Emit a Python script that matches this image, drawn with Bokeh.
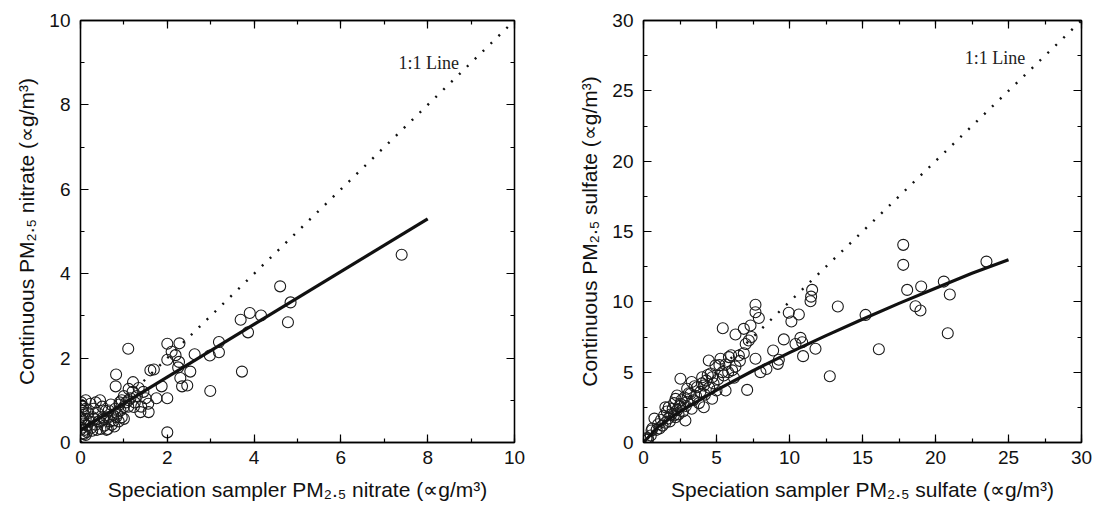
from bokeh.plotting import figure
from bokeh.models import Range1d, LinearAxis, SingleIntervalTicker, CustomJSTickFormatter, Label
from bokeh.layouts import row
from bokeh.embed import file_html
from bokeh.resources import INLINE

# ---------------- data: nitrate (left panel) ----------------
nitrate_x = [0.02, 0.05, 0.03, 0.08, 0.02, 0.06, 0.03, 0.10, 0.05, 0.12, 0.15, 0.12, 0.12, 0.12,
             0.18, 0.20, 0.23, 0.25, 0.27, 0.28, 0.30, 0.31, 0.35, 0.38, 0.40, 0.42, 0.45, 0.46,
             0.50, 0.52, 0.54, 0.55, 0.58, 0.60, 0.61, 0.63, 0.65, 0.68, 0.70, 0.72, 0.75, 0.77,
             0.78, 0.80, 0.82, 0.85, 0.88, 0.90, 0.92, 0.95, 1.00, 1.00, 1.11, 1.23, 0.00, 0.00,
             0.00, 0.15, 0.35, 0.08,
             0.95, 1.00, 1.05, 1.15, 1.25, 1.30, 1.45, 1.50, 1.10, 0.90, 1.20, 1.40,
             1.10, 2.00, 2.28, 2.00, 2.19, 2.27, 2.10, 2.25, 2.00,
             0.82, 0.81, 1.21, 1.34, 1.11, 1.61, 1.69,
             2.53, 2.46, 2.34, 2.63, 2.30, 1.87, 1.75, 2.00, 1.56, 1.38, 1.57,
             2.98, 2.99, 3.19, 3.19, 3.72, 3.69, 3.90, 3.86, 4.16, 4.78, 4.84, 4.60, 7.40]
nitrate_y = [0.95, 0.85, 0.75, 0.65, 0.55, 0.45, 0.35, 0.30, 0.22, 0.18, 0.40, 0.56, 0.80, 1.00,
             0.70, 0.50, 0.92, 0.35, 0.28, 0.60, 0.80, 0.56, 0.42, 0.30, 0.70, 0.50, 1.00, 0.32,
             0.85, 0.60, 0.56, 0.40, 0.75, 0.30, 0.60, 0.32, 0.76, 0.50, 0.90, 0.42, 0.65, 0.52,
             0.38, 0.80, 0.60, 0.68, 0.50, 0.95, 0.76, 0.60, 0.84, 0.56, 1.00, 0.84, 0.30, 0.60,
             0.90, 0.25, 0.95, 0.20,
             1.00, 1.10, 0.95, 1.05, 0.95, 1.10, 1.20, 1.05, 0.85, 0.90, 1.20, 0.85,
             2.22, 2.34, 2.35, 1.96, 2.07, 1.91, 2.15, 1.78, 0.24,
             1.61, 1.33, 1.43, 1.29, 1.27, 1.71, 1.73,
             1.68, 1.35, 1.33, 2.09, 1.53, 1.33, 1.05, 1.05, 0.92, 0.72, 0.72,
             2.06, 1.22, 2.38, 2.14, 1.68, 2.91, 3.07, 2.61, 3.01, 2.85, 3.32, 3.70, 4.45]
nitrate_fit_x = [0.0, 8.0]
nitrate_fit_y = [0.30, 5.30]

# ---------------- data: sulfate (right panel) ----------------
sulfate_x = [0.30, 0.50, 0.55, 0.75, 0.90, 1.00, 1.10, 1.20, 1.30, 1.40, 1.50, 1.60, 1.70, 1.73,
             1.80, 1.90, 2.00, 2.08, 2.10, 2.20, 2.30, 2.30, 2.40, 2.50, 2.53, 2.53, 2.60, 2.70,
             2.80, 2.87, 2.90, 2.99, 3.00, 3.10, 3.22, 3.30, 3.40, 3.50, 3.60, 3.67, 3.80, 3.90,
             4.00, 4.02, 4.13, 4.13, 4.20, 4.30, 4.47, 4.50, 4.60, 4.70, 4.70, 4.80, 4.93, 5.00,
             5.10, 5.27, 5.40, 5.50, 5.62, 5.62, 5.85, 6.07, 6.20, 6.30, 6.53, 6.87, 6.87, 6.30,
             5.43, 7.33, 7.67, 7.67, 7.90, 7.21, 7.10, 7.67, 8.01, 8.42, 8.88, 9.27, 9.20, 9.61,
             9.95, 10.13, 10.64, 10.41, 10.75, 10.87, 10.93, 11.78, 11.44, 11.55, 11.48, 13.31,
             12.76, 15.21, 16.12, 17.79, 17.79, 18.06, 19.02, 18.63, 18.97, 20.57, 20.98, 20.84,
             23.49, 5.20, 5.80, 6.00, 6.60, 7.00, 7.40, 3.30, 4.40, 2.20, 1.50, 0.60, 0.20, 0.30]
sulfate_y = [0.30, 0.50, 0.85, 1.70, 0.90, 1.30, 1.00, 1.60, 1.20, 1.90, 1.40, 2.20, 1.70, 2.51,
             1.50, 2.00, 2.40, 1.92, 2.80, 1.80, 3.34, 2.30, 2.00, 2.60, 2.75, 4.53, 3.00, 2.20,
             3.20, 1.56, 2.60, 3.82, 2.90, 3.50, 3.46, 2.40, 3.00, 4.00, 3.30, 3.93, 2.80, 3.60,
             4.20, 4.64, 4.05, 2.51, 3.40, 4.40, 5.83, 3.90, 4.90, 4.64, 3.11, 4.20, 5.48, 3.70,
             4.50, 5.95, 5.00, 4.76, 5.55, 3.70, 6.07, 5.13, 4.60, 5.40, 6.18, 6.35, 8.08, 7.68,
             8.12, 8.32, 9.79, 9.26, 8.85, 7.25, 3.74, 5.95, 5.00, 5.23, 6.54, 5.88, 5.59, 7.33,
             9.22, 8.60, 9.10, 7.00, 7.44, 7.13, 6.14, 6.66, 10.04, 10.85, 10.37, 9.67,
             4.71, 9.07, 6.63, 14.05, 12.63, 10.85, 11.09, 9.69, 9.38, 11.44, 10.52, 7.77,
             12.86, 5.50, 5.00, 6.20, 5.80, 7.00, 7.50, 4.30, 4.80, 3.10, 2.50, 1.00, 0.30, 0.20]
sulfate_fit_x = [0.0, 1.0, 2.5, 5.0, 7.5, 10.0, 12.5, 15.0, 17.5, 20.0, 22.5, 25.0]
sulfate_fit_y = [0.0, 1.12, 2.20, 3.72, 5.10, 6.39, 7.60, 8.76, 9.89, 10.97, 12.03, 13.0]

nitrate_ticks_interval = 2
sulfate_ticks_interval = 5

FONT = "Liberation Sans"
SERIF = "Liberation Serif"


def style_axis(ax, interval, show_labels=True):
    ax.ticker = SingleIntervalTicker(interval=interval, num_minor_ticks=2)
    ax.axis_line_color = "black"
    ax.axis_line_width = 1.3
    ax.major_tick_in = 8
    ax.major_tick_out = 0
    ax.minor_tick_in = 4
    ax.minor_tick_out = 0
    ax.major_tick_line_color = "black"
    ax.minor_tick_line_color = "black"
    ax.major_tick_line_width = 1.2
    ax.minor_tick_line_width = 1.2
    ax.major_label_text_font = FONT
    ax.major_label_text_font_size = "19px"
    ax.major_label_text_color = "#111111"
    ax.axis_label_text_font = FONT
    ax.axis_label_text_font_size = "21px"
    ax.axis_label_text_font_style = "normal"
    ax.axis_label_text_color = "#111111"
    if not show_labels:
        ax.formatter = CustomJSTickFormatter(code="return ''")
        ax.major_label_standoff = 0


def make_panel(xs, ys, fx, fy, vmax, interval, xlabel, ylabel, lab_x, lab_y, width,
               border_left, border_right):
    p = figure(width=width, height=509, output_backend="svg", toolbar_location=None,
               x_range=Range1d(0, vmax), y_range=Range1d(0, vmax),
               min_border_left=border_left, min_border_right=border_right,
               min_border_top=20, min_border_bottom=67)
    p.grid.visible = False
    p.outline_line_color = "black"
    p.outline_line_width = 1.3
    p.background_fill_color = "white"
    p.border_fill_color = "white"

    style_axis(p.xaxis[0], interval)
    style_axis(p.yaxis[0], interval)
    p.xaxis[0].axis_label = xlabel
    p.yaxis[0].axis_label = ylabel
    p.xaxis[0].major_label_standoff = 8
    p.xaxis[0].axis_label_standoff = 11
    p.yaxis[0].major_label_standoff = 10
    p.yaxis[0].axis_label_standoff = 8

    top = LinearAxis()
    style_axis(top, interval, show_labels=False)
    p.add_layout(top, "above")
    right = LinearAxis()
    style_axis(right, interval, show_labels=False)
    p.add_layout(right, "right")

    # 1:1 line
    p.line([0, vmax], [0, vmax], line_color="#111111", line_width=2.4, line_dash="2 9")
    # data points
    p.scatter(xs, ys, marker="circle", size=11, fill_color=None,
              line_color="#1a1a1a", line_width=1.1)
    # fit
    p.line(fx, fy, line_color="#111111", line_width=3.2)

    p.add_layout(Label(x=lab_x, y=lab_y, text="1:1 Line", text_font=SERIF,
                       text_font_size="18px", text_color="#222222",
                       text_baseline="middle", text_align="left"))
    return p


p1 = make_panel(nitrate_x, nitrate_y, nitrate_fit_x, nitrate_fit_y, 10, nitrate_ticks_interval,
                "Speciation sampler PM\u2082.\u2085 nitrate (\u221dg/m\u00b3)",
                "Continuous PM\u2082.\u2085 nitrate (\u221dg/m\u00b3)",
                7.33, 9.0, 560, 80, 46)
p2 = make_panel(sulfate_x, sulfate_y, sulfate_fit_x, sulfate_fit_y, 30, sulfate_ticks_interval,
                "Speciation sampler PM\u2082.\u2085 sulfate (\u221dg/m\u00b3)",
                "Continuous PM\u2082.\u2085 sulfate (\u221dg/m\u00b3)",
                22.0, 27.36, 535, 83, 14)

layout = row(p1, p2)
open("out.html", "w").write(file_html(layout, INLINE))
